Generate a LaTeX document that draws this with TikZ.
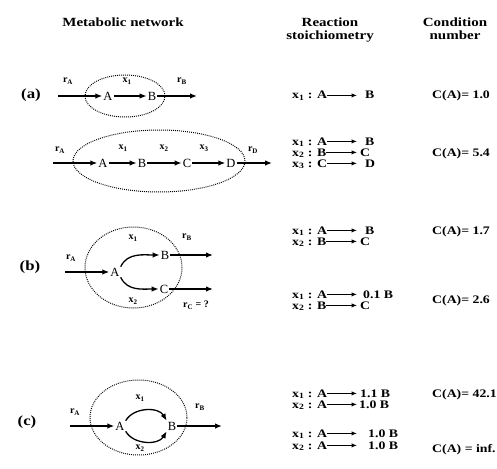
\documentclass[tikz,border=0pt]{standalone}
\usepackage{fontspec}
\setmainfont{Liberation Serif}
\newfontfamily\widefont{Liberation Serif}[FakeStretch=1.2]
\usepackage{tikz}
\usetikzlibrary{arrows.meta,positioning,calc}

\begin{document}
\begin{tikzpicture}[x=1pt,y=-1pt,
  mol/.style={font=\fontsize{12.5}{12}\selectfont,inner sep=1pt},
  lbl/.style={font=\bfseries\fontsize{10}{10}\selectfont,inner sep=0pt},
  flux/.style={-{Latex[length=7pt,width=5.5pt]},line width=1.3pt},
  rate/.style={-{Latex[length=5.5pt,width=4.5pt]},line width=1.1pt},
  pool/.style={line width=1pt,dash pattern=on 0.9pt off 1.1pt},
  head/.style={font=\widefont\bfseries\fontsize{12.5}{13}\selectfont,align=center,inner sep=0pt,anchor=north},
  rxn/.style={font=\widefont\bfseries\fontsize{11.5}{12}\selectfont,inner sep=0pt,anchor=base west},
  tag/.style={font=\widefont\bfseries\fontsize{14}{14}\selectfont,inner sep=0pt}]
  \useasboundingbox (0,0) rectangle (497,468);

  % column heads
  \node[head] (hnet) at (123,17.5) {Metabolic network};
  \node[head] (hstoich) at (330,17.5) {Reaction\\stoichiometry};
  \node[head] (hcond) at (455,17.5) {Condition\\number};

  % (a) linear pathways
  \node[tag] (ta) at (31,95) {(a)};
  \draw[pool] (125,96) ellipse [x radius=40pt,y radius=21pt];
  \coordinate (a1in) at (58,96);
  \node[mol] (a1A) at (108,96) {A};
  \node[mol] (a1B) at (152,96) {B};
  \coordinate (a1out) at (197,96);
  \draw[flux] (a1in) -- (a1A);
  \draw[flux] (a1A) -- (a1B);
  \draw[flux] (a1B) -- (a1out);
  \node[lbl] (a1rA) at (68,81) {r\textsubscript{A}};
  \node[lbl] (a1x1) at (127,81) {x\textsubscript{1}};
  \node[lbl] (a1rB) at (182,81) {r\textsubscript{B}};

  \draw[pool] (159,161) ellipse [x radius=86pt,y radius=31pt];
  \coordinate (a2in) at (53,163);
  \node[mol] (a2A) at (103,163) {A};
  \node[mol] (a2B) at (142,163) {B};
  \node[mol] (a2C) at (187,163) {C};
  \node[mol] (a2D) at (231,163) {D};
  \coordinate (a2out) at (272,163);
  \draw[flux] (a2in) -- (a2A);
  \draw[flux] (a2A) -- (a2B);
  \draw[flux] (a2B) -- (a2C);
  \draw[flux] (a2C) -- (a2D);
  \draw[flux] (a2D) -- (a2out);
  \node[lbl] (a2rA) at (60,150) {r\textsubscript{A}};
  \node[lbl] (a2x1) at (123,148) {x\textsubscript{1}};
  \node[lbl] (a2x2) at (164,148) {x\textsubscript{2}};
  \node[lbl] (a2x3) at (204,148) {x\textsubscript{3}};
  \node[lbl] (a2rD) at (253,150) {r\textsubscript{D}};

  % (b) branch point
  \node[tag] (tb) at (30,267) {(b)};
  \draw[pool] (133.5,267.5) ellipse [x radius=48.5pt,y radius=40.5pt];
  \coordinate (bin) at (65,272);
  \node[mol] (bA) at (115,272) {A};
  \node[mol] (bB) at (165,255) {B};
  \node[mol] (bC) at (164,289) {C};
  \coordinate (bBout) at (213,255);
  \coordinate (bCout) at (213,289);
  \draw[flux] (bin) -- (bA);
  \draw[flux] (bA.north east) to[out=65,in=180] (bB);
  \draw[flux] (bA.south east) to[out=-65,in=180] (bC);
  \draw[flux] (bB) -- (bBout);
  \draw[flux] (bC) -- (bCout);
  \node[lbl] (brA) at (71,258) {r\textsubscript{A}};
  \node[lbl] (bx1) at (133,238) {x\textsubscript{1}};
  \node[lbl] (brB) at (187,237) {r\textsubscript{B}};
  \node[lbl] (bx2) at (133,301) {x\textsubscript{2}};
  \node[lbl] (brC) at (196,305) {r\textsubscript{C} = ?};

  % (c) parallel reactions
  \node[tag] (tc) at (27,422) {(c)};
  \draw[pool] (138.5,417.5) ellipse [x radius=48.5pt,y radius=37.5pt];
  \coordinate (cin) at (70,426);
  \node[mol] (cA) at (120,426) {A};
  \node[mol] (cB) at (172,426) {B};
  \coordinate (cout) at (222,426);
  \draw[flux] (cin) -- (cA);
  \draw[flux] (cA.north east) to[bend left=60] (cB.north west);
  \draw[flux] (cA.south east) to[bend right=60] (cB.south west);
  \draw[flux] (cB) -- (cout);
  \node[lbl] (crA) at (75,412) {r\textsubscript{A}};
  \node[lbl] (cx1) at (140,398) {x\textsubscript{1}};
  \node[lbl] (cx2) at (140,448) {x\textsubscript{2}};
  \node[lbl] (crB) at (200,407) {r\textsubscript{B}};

  % stoichiometry
  \foreach \n/\y/\lt/\rt/\rx/\g in {
    a1/99/{x\textsubscript{1} : A}/B/365/8pt,
    a2/145/{x\textsubscript{1} : A}/B/365/8pt,
    a3/156/{x\textsubscript{2} : B}/C/360/3pt,
    a4/167/{x\textsubscript{3} : C}/D/365/8pt,
    b1/234/{x\textsubscript{1} : A}/B/365/8pt,
    b2/245/{x\textsubscript{2} : B}/C/360/3pt,
    b3/298/{x\textsubscript{1} : A}/0.1 B/363/6pt,
    b4/309/{x\textsubscript{2} : B}/C/360/3pt,
    c1/397/{x\textsubscript{1} : A}/1.1 B/360/3pt,
    c2/408/{x\textsubscript{2} : A}/1.0 B/359/2pt,
    c3/437/{x\textsubscript{1} : A}/1.0 B/368/11pt,
    c4/449/{x\textsubscript{2} : A}/1.0 B/368/11pt}{
    \node[rxn] (\n-l) at (292,\y) {\lt};
    \node[rxn] (\n-r) at (\rx,\y) {\rt};
    \draw[rate] ([yshift=3.6pt]\n-l.base east) -- ([xshift=-\g,yshift=3.6pt]\n-r.base west);
  }

  % condition numbers
  \node[rxn] (ca1) at (432,99) {C(A)= 1.0};
  \node[rxn] (ca2) at (432,156) {C(A)= 5.4};
  \node[rxn] (cb1) at (432,234) {C(A)= 1.7};
  \node[rxn] (cb2) at (432,303) {C(A)= 2.6};
  \node[rxn] (cc1) at (432,397) {C(A)= 42.1};
  \node[rxn] (cc2) at (432,452) {C(A) = inf.};
\end{tikzpicture}
\end{document}
